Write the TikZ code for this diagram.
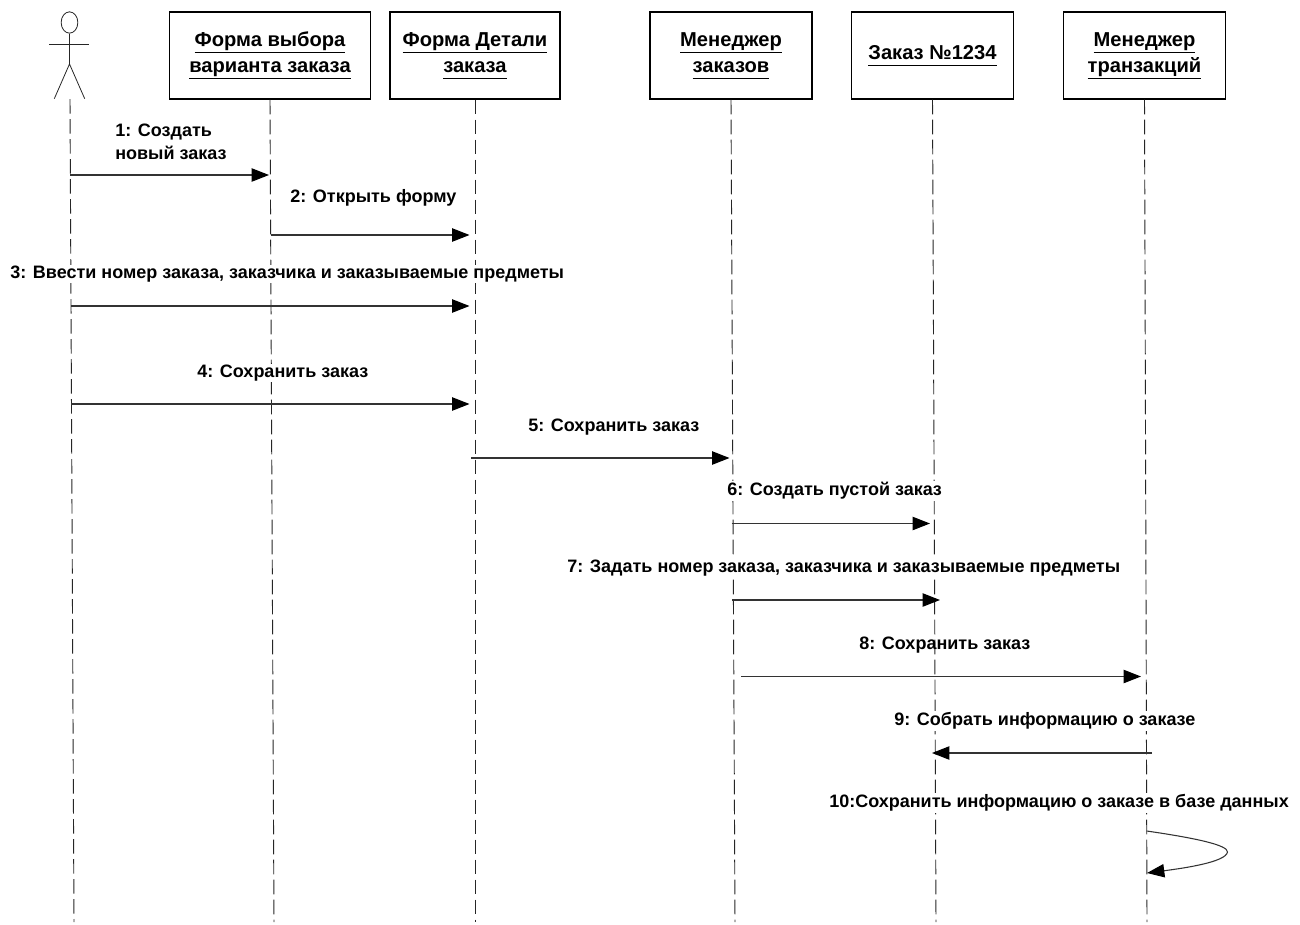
\documentclass[tikz,border=0pt]{standalone}
\usepackage{fontspec}
\setmainfont{Liberation Sans}
\usetikzlibrary{arrows.meta,shapes.geometric}
\newcommand{\objtext}[1]{\underline{\vphantom{Фрй}#1}}
\tikzset{
  objbox/.style={draw=black,fill=white,line width=0.9pt,minimum height=65.25pt,inner sep=0pt,align=center,font=\fontsize{15.1}{19.5}\selectfont\bfseries},
  lifeline/.style={draw=black!85,line width=0.7pt,dash pattern=on 11pt off 4pt},
  msg/.style={draw=black!80,line width=0.8pt,-{Triangle[length=13pt,width=10pt,black]}},
  msglabel/.style={fill=white,inner xsep=0pt,inner ysep=1pt,font=\fontsize{13.5}{17.25}\selectfont\bfseries,align=left},
  actorline/.style={draw=black!85,line width=0.6pt}
}
\begin{document}
\begin{tikzpicture}[x=0.75pt,y=-0.75pt]
  \useasboundingbox (0,0) rectangle (1300,925);
  % objects
  \node[objbox,minimum width=150.5pt] (formvar) at (270,55.5) {\objtext{Форма выбора}\\\objtext{варианта заказа}};
  \node[objbox,minimum width=127.5pt] (formdet) at (475,55.5) {\objtext{Форма Детали}\\\objtext{заказа}};
  \node[objbox,minimum width=121.5pt] (mgrord) at (731,55.5) {\objtext{Менеджер}\\\objtext{заказов}};
  \node[objbox,minimum width=121.5pt] (order) at (932.5,55.5) {\objtext{Заказ №1234}};
  \node[objbox,minimum width=121.5pt] (mgrtrans) at (1144.5,55.5) {\objtext{Менеджер}\\\objtext{транзакций}};
  % actor
  \node[draw=black!85,line width=0.6pt,ellipse,minimum width=12.5pt,minimum height=16pt,inner sep=0pt] (actorhead) at (69.5,22.5) {};
  \coordinate (actorhip) at (69.5,64);
  \coordinate (armL) at (49.3,44);
  \coordinate (armR) at (89.3,44);
  \coordinate (legL) at (54.3,98.7);
  \coordinate (legR) at (84.7,98.7);
  \draw[actorline] (actorhead.south) -- (actorhip);
  \draw[actorline] (armL) -- (armR);
  \draw[actorline] (legL) -- (actorhip) -- (legR);
  % lifelines
  \coordinate (actortop) at (70,99);
  \coordinate (actorend) at (74,922);
  \coordinate (formvarend) at (274,922);
  \coordinate (formdetend) at (475,922);
  \coordinate (mgrordend) at (735,922);
  \coordinate (orderend) at (936,922);
  \coordinate (mgrtransend) at (1147,922);
  \draw[lifeline] (actortop) -- (actorend);
  \draw[lifeline] (formvar.south) -- (formvarend);
  \draw[lifeline] (formdet.south) -- (formdetend);
  \draw[lifeline] (mgrord.south) -- (mgrordend);
  \draw[lifeline] (order.south) -- (orderend);
  \draw[lifeline] (mgrtrans.south) -- (mgrtransend);
  % labels
  \node[msglabel,anchor=west] (m1) at (115,141.5) {1: Создать\\новый заказ};
  \node[msglabel,anchor=west] (m2) at (290,198) {2: Открыть форму};
  \node[msglabel,anchor=west] (m3) at (10,274) {3: Ввести номер заказа, заказчика и заказываемые предметы};
  \node[msglabel,anchor=west] (m4) at (197,373) {4: Сохранить заказ};
  \node[msglabel,anchor=west] (m5) at (528,427) {5: Сохранить заказ};
  \node[msglabel,anchor=west] (m6) at (727,491) {6: Создать пустой заказ};
  \node[msglabel,anchor=west] (m7) at (567,568) {7: Задать номер заказа, заказчика и заказываемые предметы};
  \node[msglabel,anchor=west,fill=none] (m8) at (859,645) {8: Сохранить заказ};
  \node[msglabel,anchor=west] (m9) at (894,721) {9: Собрать информацию о заказе};
  \node[msglabel,anchor=west] (m10) at (829,803) {10:Сохранить информацию о заказе в базе данных};
  % messages
  \coordinate (a1) at (70,175);  \coordinate (b1) at (269,175);
  \coordinate (a2) at (271,235); \coordinate (b2) at (469.5,235);
  \coordinate (a3) at (71,306);  \coordinate (b3) at (469.5,306);
  \coordinate (a4) at (71,404);  \coordinate (b4) at (469.5,404);
  \coordinate (a5) at (471,458); \coordinate (b5) at (729.5,458);
  \coordinate (a6) at (731.5,523.5); \coordinate (b6) at (930,523.5);
  \coordinate (a7) at (732,600); \coordinate (b7) at (940,600);
  \coordinate (a8) at (741,676.5); \coordinate (b8) at (1141,676.5);
  \coordinate (a9) at (1152,753); \coordinate (b9) at (932,753);
  \coordinate (a10) at (1146.7,831); \coordinate (b10) at (1147,873);
  \draw[msg] (a1) -- (b1);
  \draw[msg] (a2) -- (b2);
  \draw[msg] (a3) -- (b3);
  \draw[msg] (a4) -- (b4);
  \draw[msg] (a5) -- (b5);
  \draw[msg] (a6) -- (b6);
  \draw[msg] (a7) -- (b7);
  \draw[msg] (a8) -- (b8);
  \draw[msg] (a9) -- (b9);
  \draw[msg] (a10) .. controls (1195,838) and (1228,845) .. (1227.5,852) .. controls (1226,862) and (1185,868) .. (b10);
\end{tikzpicture}
\end{document}
